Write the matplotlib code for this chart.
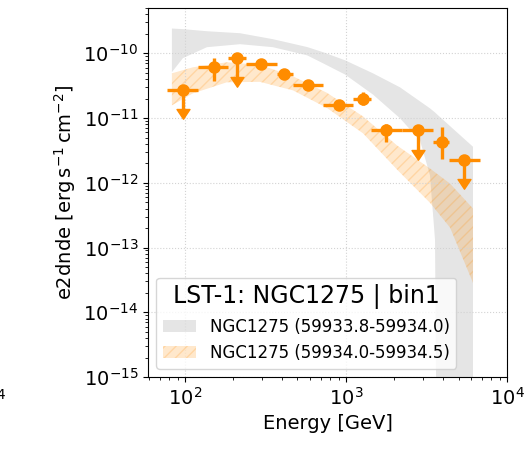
import numpy as np
import matplotlib
matplotlib.use("Agg")
import matplotlib.pyplot as plt
from matplotlib.path import Path

# flux points (LST-1, second period)
e_ref = [96.8, 152, 211, 296.5, 414, 578, 908, 1270, 1770, 2786, 3929, 5433]
e_min = [77.6, 121, 186, 239, 371, 467, 723, 1110, 1423, 2218, 3456, 4383]
e_max = [121, 186, 239, 371, 467, 723, 1110, 1423, 2218, 3456, 4383, 6792]
e2dnde = [2.74e-11, 6.14e-11, 8.58e-11, 6.93e-11, 4.73e-11, 3.20e-11,
          1.61e-11, 1.99e-11, 6.43e-12, 6.43e-12, 4.24e-12, 2.26e-12]
e2dnde_lo = [np.nan, 3.73e-11, np.nan, 6.3e-11, 4.3e-11, 2.9e-11,
             1.47e-11, 1.57e-11, 4.24e-12, np.nan, 2.34e-12, np.nan]
e2dnde_hi = [np.nan, 8.58e-11, np.nan, 7.6e-11, 5.2e-11, 3.5e-11,
             1.76e-11, 2.52e-11, 8.17e-12, np.nan, 7.23e-12, np.nan]
is_ul = [True, False, True, False, False, False, False, False, False, True, False, True]

# model error band, first period (59933.8-59934.0)
band1_e = [83.0, 97.2, 137, 220, 352, 573, 720, 986, 1472, 2165, 2882, 3325, 3572, 3676, 6150]
band1_hi = [2.41e-10, 2.36e-10, 2.19e-10, 2.04e-10, 1.65e-10, 1.25e-10, 1.04e-10, 7.8e-11,
            4.9e-11, 2.98e-11, 1.81e-11, 1.41e-11, 1.22e-11, 1.14e-11, 3.6e-12]
band1_lo = [5.1e-11, 8.4e-11, 1.24e-10, 1.38e-10, 1.24e-10, 9.3e-11, 7.0e-11, 4.7e-11,
            2.3e-11, 9.9e-12, 4.5e-12, 1.3e-12, 1.3e-13, 1e-17, 1e-17]

# model error band, second period (59934.0-59934.5)
band2_e = [83.0, 112, 182, 292, 469, 762, 1276, 2075, 3325, 4430, 6150]
band2_hi = [4.9e-11, 6.07e-11, 7.26e-11, 6.64e-11, 4.41e-11, 2.45e-11,
            1.06e-11, 3.77e-12, 1.66e-12, 9.7e-13, 4.0e-13]
band2_lo = [1.57e-11, 2.40e-11, 3.56e-11, 3.62e-11, 2.67e-11, 1.43e-11,
            5.8e-12, 1.60e-12, 4.9e-13, 2.03e-13, 2.85e-14]

label1 = "NGC1275 (59933.8-59934.0)"
label2 = "NGC1275 (59934.0-59934.5)"
ORANGE = "darkorange"

fig = plt.figure(figsize=(5.26, 4.65), dpi=100)
ax = fig.add_axes([0.2814, 0.1892, 0.6825, 0.7936])

ax.fill_between(band1_e, band1_lo, band1_hi, facecolor="black", alpha=0.1,
                linewidth=0, label=label1)
ax.fill_between(band2_e, band2_lo, band2_hi, facecolor=ORANGE, edgecolor=ORANGE,
                alpha=0.2, linewidth=0, hatch="///", label=label2)

x = np.array(e_ref)
y = np.array(e2dnde)
ul = np.array(is_ul)
xerr = [x - np.array(e_min), np.array(e_max) - x]
yerr_lo = np.where(ul, 0.5 * y, y - np.array(e2dnde_lo))
yerr_hi = np.where(ul, 0.0, np.array(e2dnde_hi) - y)
_, caps, _ = ax.errorbar(x, y, xerr=xerr, yerr=[yerr_lo, yerr_hi], uplims=ul,
                         marker="o", ms=7.5, mew=1.5, ls="none", color=ORANGE,
                         elinewidth=2.4, capsize=0, zorder=5)

# filled arrow heads for the upper limits, base at the end of the bar
arrow = Path([(-1, 0), (1, 0), (0, -1.5), (-1, 0)], closed=True)
for c in caps:
    c.set_marker(arrow)
    c.set_markersize(14)
    c.set_markeredgewidth(1)
    c.set_markerfacecolor(ORANGE)

ax.set_xscale("log")
ax.set_yscale("log")
ax.set_xlim(59, 1e4)
ax.set_ylim(1e-15, 5e-10)
ax.grid(True, which="major", ls=":", color="lightgray")
ax.tick_params(labelsize=14)
ax.set_xlabel("Energy [GeV]", fontsize=14)
ax.set_ylabel(r"e2dnde [erg$\,$s$^{-1}\,$cm$^{-2}$]", fontsize=14)

ax.legend(loc="lower left", fontsize=12, title="LST-1: NGC1275 | bin1",
          title_fontsize=17)

# cut-off tick label of the neighbouring panel
fig.text(0.012, 1 - 400 / 465, r"$10^4$", ha="right", va="center", fontsize=14)

fig.savefig("out.png", dpi=100)
